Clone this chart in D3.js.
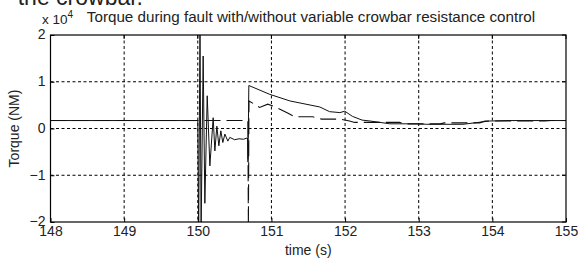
<!DOCTYPE html>
<html><head><meta charset="utf-8">
<script src="https://cdn.jsdelivr.net/npm/d3@7"></script>
<style>
html,body{margin:0;padding:0;background:#fff;}
svg{display:block;}
text{font-family:"Liberation Sans",Arial,sans-serif;fill:#222;}
</style></head>
<body>
<svg id="c" width="579" height="262"></svg>
<script>
// ---- data ----
const xTicks = [148,149,150,151,152,153,154,155];
const yTicks = [-2,-1,0,1,2];           // x 10^4
const title = "Torque during fault with/without variable crowbar resistance control";
const xLabel = "time (s)";
const yLabel = "Torque (NM)";

// solid series (with control)
const solidT = [148,150.0,150.012,150.03,150.045,150.073,150.096,150.128,150.164,150.209,150.232,150.259,150.286,150.313,150.34,150.368,150.408,150.435,150.5,150.56,150.62,150.675,150.682,150.693,150.978,151.25,151.657,151.79,151.93,151.996,152.1,152.23,152.34,152.61,152.97,153.11,153.6,153.96,154.2,155];
const solidV = [1700,1700,-22000,22000,-22000,15500,-16000,7000,-8000,2300,-4800,500,-3700,-500,-3000,-1200,-2700,-1900,-2400,-2200,-2300,-2000,-7200,9200,7300,5900,4600,3600,3400,3700,2600,1800,1600,1000,1000,900,900,1600,1700,1700];

// dashed series (without control)
const dashT = [148,150.68,150.687,150.695,150.84,150.95,151.07,151.22,151.32,151.56,151.68,151.93,152.06,152.13,152.74,152.8,153.29,153.35,153.83,153.9,154.71,154.8,155];
const dashV = [1700,1700,-21000,5900,4500,5200,4500,3300,2500,2500,2000,2000,1600,1300,1300,1000,1000,1200,1200,1600,1600,1700,1700];

// ---- layout ----
const svg = d3.select("#c");
const L = 50.5, R = 566, T = 35, B = 222;
const x = d3.scaleLinear().domain([148,155]).range([L,R]);
const y = d3.scaleLinear().domain([-20000,20000]).range([B,T]);

svg.append("defs").append("clipPath").attr("id","clip")
  .append("rect").attr("x",L).attr("y",T).attr("width",R-L).attr("height",B-T);

// grid
const g = svg.append("g");
g.selectAll(".vg").data(xTicks.slice(1,-1)).enter().append("line")
  .attr("x1",d=>x(d)).attr("x2",d=>x(d)).attr("y1",T).attr("y2",B)
  .attr("stroke","#000").attr("stroke-width",1).attr("stroke-dasharray","3,2.5");
g.selectAll(".hg").data(yTicks.slice(1,-1)).enter().append("line")
  .attr("y1",d=>y(d*1e4)).attr("y2",d=>y(d*1e4)).attr("x1",L).attr("x2",R)
  .attr("stroke","#000").attr("stroke-width",1).attr("stroke-dasharray","3,2.5");

// lines
const line = d3.line().x(d=>x(d[0])).y(d=>y(d[1]));
const solid = solidT.map((t,i)=>[t,solidV[i]]);
const dashed = dashT.map((t,i)=>[t,dashV[i]]);
const lg = svg.append("g").attr("clip-path","url(#clip)");
lg.append("path").attr("d",line(dashed)).attr("fill","none")
  .attr("stroke","#111").attr("stroke-width",1.1).attr("stroke-dasharray","16,6");
lg.append("path").attr("d",line(solid)).attr("fill","none")
  .attr("stroke","#111").attr("stroke-width",1);

// axes
const ax = svg.append("g").attr("transform",`translate(0,${B})`)
  .call(d3.axisBottom(x).tickValues(xTicks).tickSize(-4).tickPadding(3).tickFormat(d3.format("d")));
const ay = svg.append("g").attr("transform",`translate(${L},0)`)
  .call(d3.axisLeft(y).tickValues(yTicks.map(v=>v*1e4)).tickSize(-4).tickPadding(5).tickFormat(d=>d3.format("d")(d/1e4)));
[ax,ay].forEach(a=>{
  a.select(".domain").remove();
  a.selectAll("line").attr("stroke","#000");
  a.selectAll("text").attr("font-family","Liberation Sans, Arial, sans-serif").attr("font-size",14).attr("fill","#222");
});
ax.selectAll("text").attr("dy","0.8em");
ay.selectAll("text").attr("dy","0.28em");
// top / right ticks
svg.append("g").selectAll("line").data(xTicks).enter().append("line")
  .attr("x1",d=>x(d)).attr("x2",d=>x(d)).attr("y1",T).attr("y2",T+4).attr("stroke","#000");
svg.append("g").selectAll("line").data(yTicks).enter().append("line")
  .attr("y1",d=>y(d*1e4)).attr("y2",d=>y(d*1e4)).attr("x1",R).attr("x2",R-4).attr("stroke","#000");

// box
svg.append("rect").attr("x",L).attr("y",T).attr("width",R-L).attr("height",B-T)
  .attr("fill","none").attr("stroke","#000").attr("stroke-width",1.2);

// texts
svg.append("text").attr("x",311).attr("y",22).attr("text-anchor","middle")
  .attr("font-size",15.2).text(title);
const ex = svg.append("text").attr("x",42).attr("y",24).attr("font-size",13.5);
ex.append("tspan").text("x 10");
ex.append("tspan").attr("dy",-6).attr("font-size",10).text("4");
svg.append("text").attr("x",(L+R)/2).attr("y",255).attr("text-anchor","middle")
  .attr("font-size",14).text(xLabel);
svg.append("text").attr("transform",`translate(19,${(T+B)/2}) rotate(-90)`)
  .attr("text-anchor","middle").attr("font-size",14).text(yLabel);
// cut-off caption text above the figure
svg.append("text").attr("x",143).attr("y",5).attr("text-anchor","end")
  .attr("font-family","Liberation Serif, Times New Roman, serif").attr("font-size",23)
  .attr("fill","#000").text("the crowbar.");
</script>
</body></html>
